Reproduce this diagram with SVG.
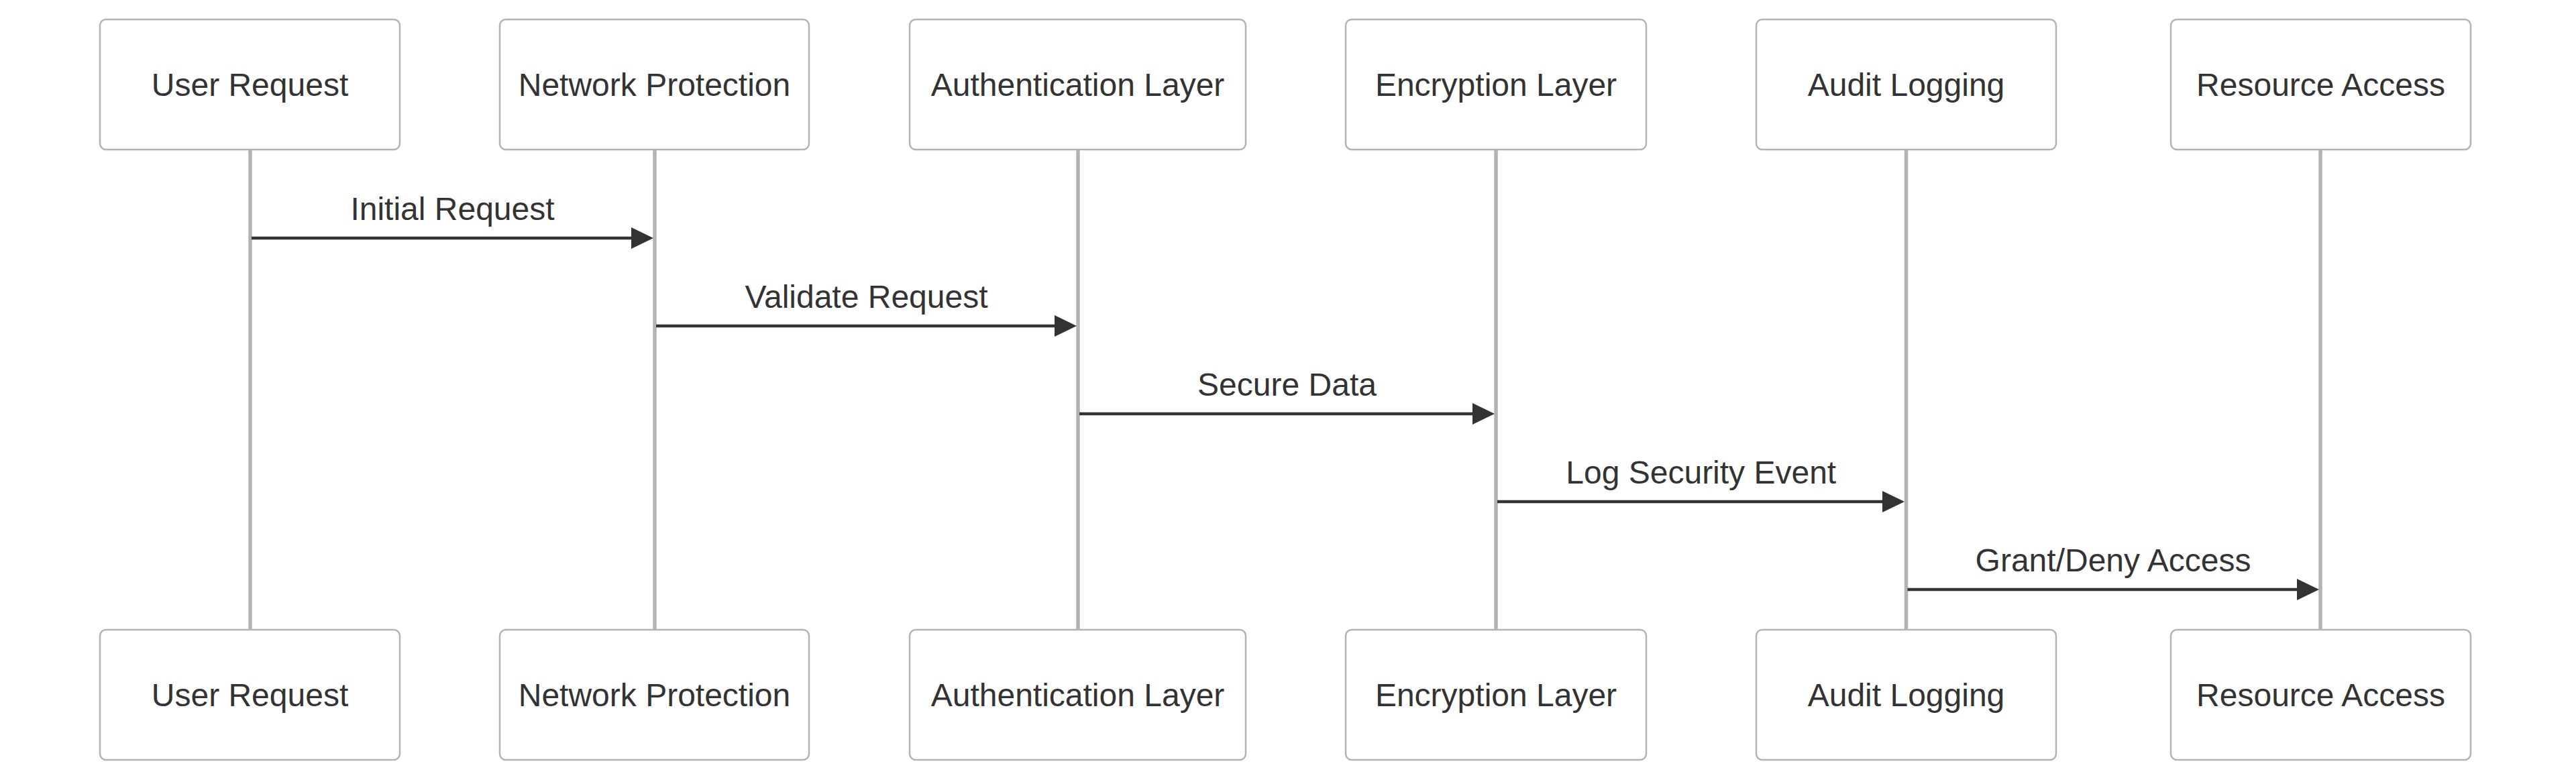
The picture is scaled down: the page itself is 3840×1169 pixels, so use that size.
<svg xmlns="http://www.w3.org/2000/svg" width="3840" height="1169" viewBox="0 0 3840 1169">
<style>
.actor{fill:#ffffff;stroke:#b3b3b3;stroke-width:2.5}
.life{stroke:#b3b3b3;stroke-width:5.5}
.lbl{font-family:"Liberation Sans",Arial,sans-serif;font-size:48px;fill:#333333;text-anchor:middle}
.msg{stroke:#333333;stroke-width:4.5;fill:none}
.head{fill:#333333}
</style>
<rect width="3840" height="1169" fill="#ffffff"/>
<g id="lifelines">
<line class="life" x1="373" y1="223" x2="373" y2="939"/>
<line class="life" x1="976" y1="223" x2="976" y2="939"/>
<line class="life" x1="1607" y1="223" x2="1607" y2="939"/>
<line class="life" x1="2230" y1="223" x2="2230" y2="939"/>
<line class="life" x1="2841.5" y1="223" x2="2841.5" y2="939"/>
<line class="life" x1="3459" y1="223" x2="3459" y2="939"/>
</g>
<g id="node-user">
<rect class="actor" x="149" y="29" width="447" height="194" rx="9"/>
<text class="lbl" x="372.5" y="143">User Request</text>
<rect class="actor" x="149" y="939" width="447" height="194" rx="9"/>
<text class="lbl" x="372.5" y="1053">User Request</text>
</g>
<g id="node-network">
<rect class="actor" x="745" y="29" width="461" height="194" rx="9"/>
<text class="lbl" x="975.5" y="143">Network Protection</text>
<rect class="actor" x="745" y="939" width="461" height="194" rx="9"/>
<text class="lbl" x="975.5" y="1053">Network Protection</text>
</g>
<g id="node-auth">
<rect class="actor" x="1356" y="29" width="501" height="194" rx="9"/>
<text class="lbl" x="1606.5" y="143">Authentication Layer</text>
<rect class="actor" x="1356" y="939" width="501" height="194" rx="9"/>
<text class="lbl" x="1606.5" y="1053">Authentication Layer</text>
</g>
<g id="node-encryption">
<rect class="actor" x="2006" y="29" width="448" height="194" rx="9"/>
<text class="lbl" x="2230" y="143">Encryption Layer</text>
<rect class="actor" x="2006" y="939" width="448" height="194" rx="9"/>
<text class="lbl" x="2230" y="1053">Encryption Layer</text>
</g>
<g id="node-audit">
<rect class="actor" x="2618" y="29" width="447" height="194" rx="9"/>
<text class="lbl" x="2841.5" y="143">Audit Logging</text>
<rect class="actor" x="2618" y="939" width="447" height="194" rx="9"/>
<text class="lbl" x="2841.5" y="1053">Audit Logging</text>
</g>
<g id="node-resource">
<rect class="actor" x="3236" y="29" width="447" height="194" rx="9"/>
<text class="lbl" x="3459.5" y="143">Resource Access</text>
<rect class="actor" x="3236" y="939" width="447" height="194" rx="9"/>
<text class="lbl" x="3459.5" y="1053">Resource Access</text>
</g>
<g id="connectors">
<text class="lbl" x="674.5" y="328">Initial Request</text>
<line class="msg" x1="375" y1="355" x2="945" y2="355"/>
<polygon class="head" points="941,339 974,355 941,371"/>
<text class="lbl" x="1291.5" y="459">Validate Request</text>
<line class="msg" x1="978" y1="486" x2="1576" y2="486"/>
<polygon class="head" points="1572,470 1605,486 1572,502"/>
<text class="lbl" x="1918.5" y="590">Secure Data</text>
<line class="msg" x1="1609" y1="617" x2="2199" y2="617"/>
<polygon class="head" points="2195,601 2228,617 2195,633"/>
<text class="lbl" x="2535.75" y="721">Log Security Event</text>
<line class="msg" x1="2232" y1="748" x2="2810" y2="748"/>
<polygon class="head" points="2806,732 2839,748 2806,764"/>
<text class="lbl" x="3150" y="852">Grant/Deny Access</text>
<line class="msg" x1="2843.5" y1="879" x2="3428" y2="879"/>
<polygon class="head" points="3424,863 3457,879 3424,895"/>
</g>
</svg>
